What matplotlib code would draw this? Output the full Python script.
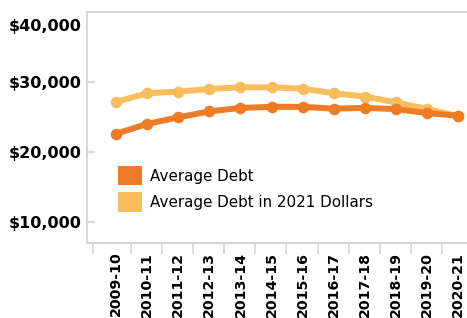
import numpy as np
import matplotlib.pyplot as plt
import matplotlib.transforms as mtransforms
from matplotlib.patches import Patch

# données
years = ['2009-10', '2010-11', '2011-12', '2012-13', '2013-14', '2014-15',
         '2015-16', '2016-17', '2017-18', '2018-19', '2019-20', '2020-21']
avg_debt = [22600, 24000, 24950, 25800, 26300, 26450,
            26450, 26200, 26300, 26130, 25560, 25180]
avg_debt_2021 = [27150, 28400, 28630, 29010, 29250, 29250,
                 29060, 28400, 27930, 27090, 26150, 25120]
y_ticks = [10000, 20000, 30000, 40000]

c_dark = '#EE7B26'
c_light = '#F8BD5C'
c_axis = '#D6D6D6'

plt.rcParams['font.family'] = 'DejaVu Sans'

W, H = 467, 318
fig = plt.figure(figsize=(W / 100, H / 100), dpi=100)
# zone de tracé en pixels (gauche, haut, droite, bas) ; la droite sort de l'image
left, top, right, bottom = 86.7, 12.3, 520, 243.3
ax = fig.add_axes([left / W, 1 - bottom / H, (right - left) / W, (bottom - top) / H])

x = np.arange(len(years))
ax.plot(x, avg_debt_2021, color=c_light, lw=4.3, marker='o', ms=7.3,
        solid_capstyle='round', zorder=3)
ax.plot(x, avg_debt, color=c_dark, lw=4.3, marker='o', ms=7.3,
        solid_capstyle='round', zorder=4)

# 1 catégorie = 31.1 px, premier point à x = 116 px
ax.set_xlim((left - 116) / 31.1, (right - 116) / 31.1)
ax.set_ylim(6900, 40000)

# axe y
ax.set_yticks(y_ticks)
ax.set_yticklabels([f'${v:,}' for v in y_ticks], fontsize=11.5, fontweight='bold')
ax.tick_params(axis='y', direction='in', length=6, width=1.2, color=c_axis, pad=3.5)
# le libellé du haut est décalé vers le bas comme dans l'original
lab40 = ax.get_yticklabels()[-1]
lab40.set_transform(lab40.get_transform() + mtransforms.ScaledTranslation(0, -9 / 72, fig.dpi_scale_trans))

# axe x
ax.set_xticks(x)
ax.set_xticklabels(years, rotation=90, fontsize=10.2, fontweight='bold')
ax.tick_params(axis='x', which='major', length=0, pad=6)
ax.set_xticks(list(x[:-1] + 0.48) + [-0.73], minor=True)
ax.tick_params(axis='x', which='minor', direction='out', length=8, width=1.2, color=c_axis)

for s in ['left', 'bottom', 'top']:
    ax.spines[s].set_color(c_axis)
    ax.spines[s].set_linewidth(1.4)
ax.spines['right'].set_visible(False)

handles = [Patch(facecolor=c_dark, edgecolor='none', label='Average Debt'),
           Patch(facecolor=c_light, edgecolor='none', label='Average Debt in 2021 Dollars')]
ax.legend(handles=handles, loc='upper left', bbox_to_anchor=(0.072, 0.335),
          frameon=False, fontsize=10.9, borderpad=0, borderaxespad=0,
          handlelength=1.6, handleheight=1.6, handletextpad=0.5, labelspacing=0.45)

fig.savefig('out.png', dpi=100)
